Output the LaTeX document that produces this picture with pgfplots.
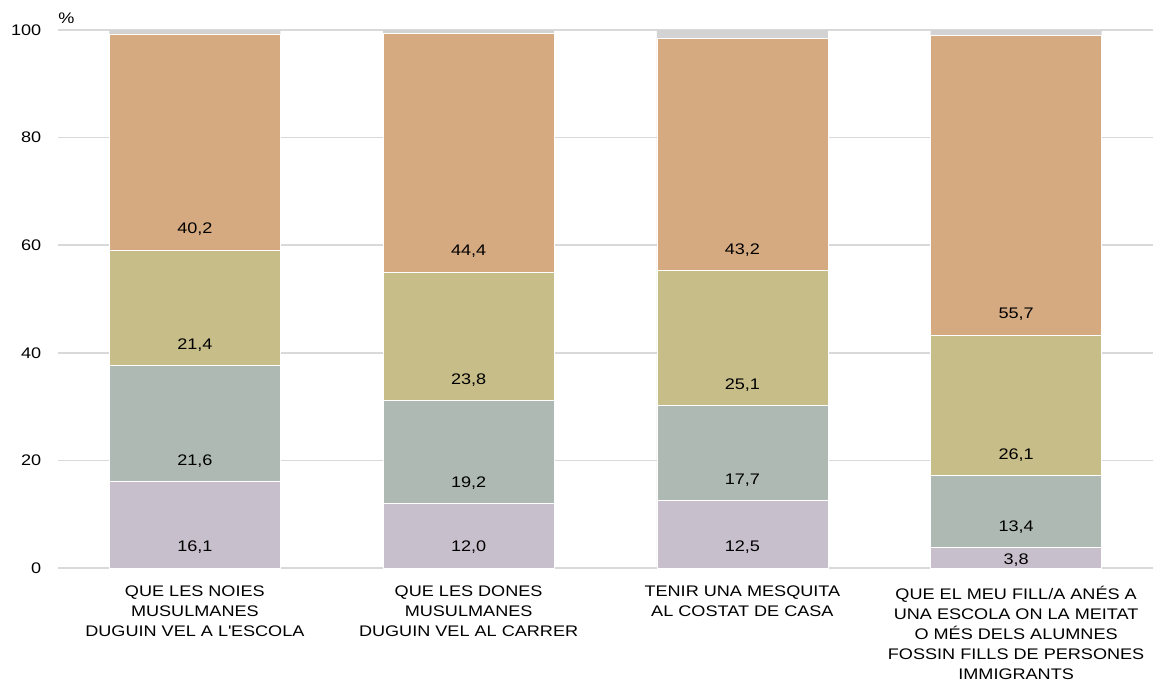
\documentclass[border=0pt]{standalone}
\usepackage{fontspec}
\setmainfont{Liberation Sans}[FakeStretch=1.18]
\usepackage{pgfplots}
\usepackage{pgfplotstable}
\pgfplotsset{compat=1.18}
\definecolor{cPur}{HTML}{C7BFCC}
\definecolor{cGrn}{HTML}{ADB9B2}
\definecolor{cOli}{HTML}{C6BD89}
\definecolor{cOra}{HTML}{D6AA81}
\definecolor{cGry}{HTML}{D3D3D3}
\definecolor{cGrid}{HTML}{D9D9D9}
% value labels: category, segment value, label height (segment base + offset)
\pgfplotstableread{
x val pos
0 16.1 3.8
1 12.0 3.8
2 12.5 3.8
3 3.8  1.5
0 21.6 19.9
1 19.2 15.8
2 17.7 16.3
3 13.4 7.6
0 21.4 41.5
1 23.8 35.0
2 25.1 34.0
3 26.1 21.0
0 40.2 62.9
1 44.4 58.8
2 43.2 59.1
3 55.7 47.1
}\labeltable
\begin{document}
\begin{tikzpicture}
\begin{axis}[
  name=ax,
  scale only axis, width=821.25pt, height=403.5pt,
  ybar stacked, bar width=128.25pt,
  xmin=-0.5, xmax=3.5, ymin=0, ymax=100,
  axis line style={draw=none},
  major tick length=0pt,
  ymajorgrids, grid style={cGrid, line width=1.1pt},
  ytick={0,20,40,60,80,100},
  xtick={0,1,2,3},
  xticklabels={
    {QUE LES NOIES\\MUSULMANES\\DUGUIN VEL A L\textquotesingle ESCOLA},
    {QUE LES DONES\\MUSULMANES\\DUGUIN VEL AL CARRER},
    {TENIR UNA MESQUITA\\AL COSTAT DE CASA},
    {QUE EL MEU FILL/A ANÉS A\\UNA ESCOLA ON LA MEITAT\\O MÉS DELS ALUMNES\\FOSSIN FILLS DE PERSONES\\IMMIGRANTS}},
  tick label style={font=\fontsize{11.5}{15}\selectfont},
  /pgf/number format/assume math mode=true,
  xticklabel style={align=center, anchor=north, yshift=-10pt},
  yticklabel style={anchor=east, xshift=-9pt},
  every axis plot/.append style={draw=white, line width=0.4pt},
  clip=false,
]
\addplot[fill=cPur] coordinates {(0,16.1) (1,12.0) (2,12.5) (3,3.8)};
\addplot[fill=cGrn] coordinates {(0,21.6) (1,19.2) (2,17.7) (3,13.4)};
\addplot[fill=cOli] coordinates {(0,21.4) (1,23.8) (2,25.1) (3,26.1)};
\addplot[fill=cOra] coordinates {(0,40.2) (1,44.4) (2,43.2) (3,55.7)};
\addplot[fill=cGry, draw=none] coordinates {(0,0.7) (1,0.6) (2,1.5) (3,1.0)};
\node[font=\fontsize{11.5}{14}\selectfont] at (rel axis cs:0,1) [xshift=6.4pt, yshift=9pt] {\%};
\end{axis}
\begin{axis}[
  at={(ax.south west)}, anchor=south west,
  scale only axis, width=821.25pt, height=403.5pt,
  xmin=-0.5, xmax=3.5, ymin=0, ymax=100,
  hide axis, clip=false,
  /pgf/number format/assume math mode=true,
]
\addplot[draw=none, mark=none,
  nodes near coords={\pgfmathprintnumber[fixed,fixed zerofill,precision=1,use comma]{\pgfplotspointmeta}},
  point meta=explicit,
  every node near coord/.style={anchor=center, font=\fontsize{11.5}{14}\selectfont, text=black, inner sep=0pt},
] table[x=x, y=pos, meta=val] {\labeltable};
\end{axis}
\pgfresetboundingbox
\path (ax.south west) ++(-43.5pt,-86.25pt) rectangle ([yshift=22.5pt]ax.north east);
\end{tikzpicture}
\end{document}
